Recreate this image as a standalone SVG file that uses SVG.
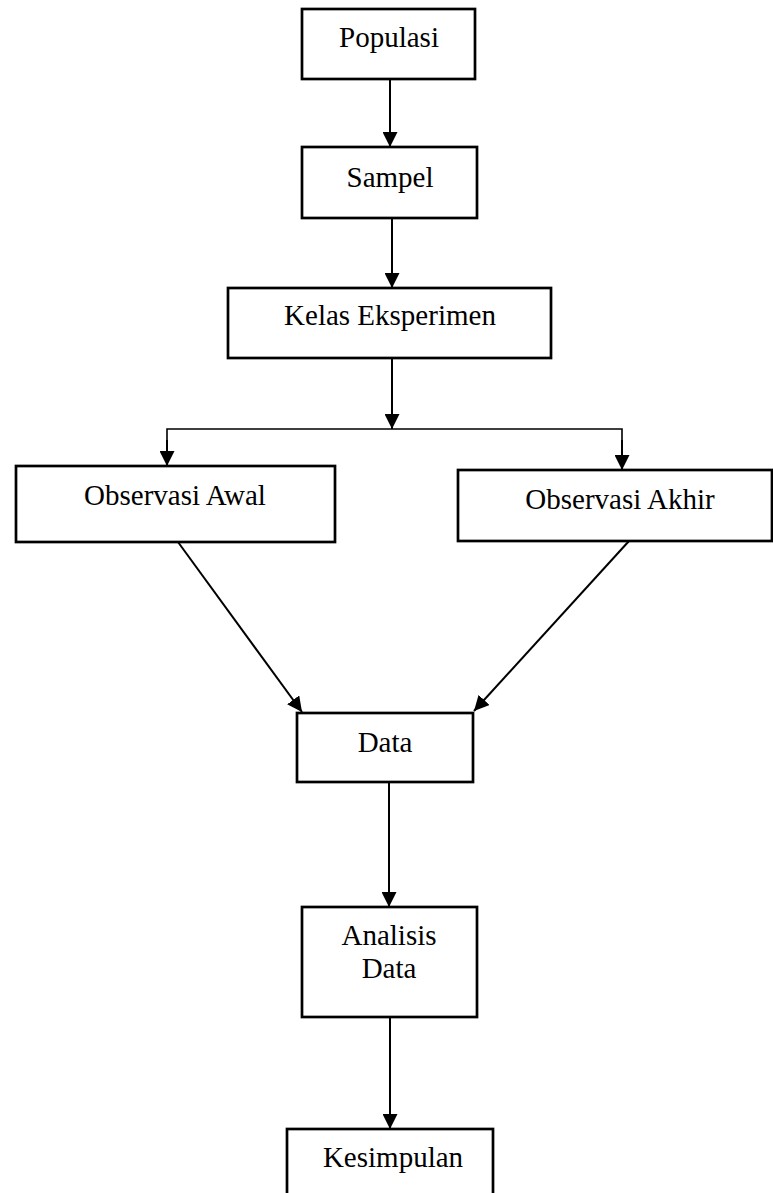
<svg xmlns="http://www.w3.org/2000/svg" width="773" height="1193" viewBox="0 0 773 1193">
<style>
  .box { fill: #fff; stroke: #000; stroke-width: 2.7; }
  .lbl { font-family: "Liberation Serif", "Times New Roman", serif; font-size: 29px; fill: #000; text-anchor: middle; }
  .conn { fill: none; stroke: #000; stroke-width: 2; }
  .thin { fill: none; stroke: #000; stroke-width: 1.6; }
</style>
<defs>
  <marker id="arr" viewBox="0 0 16 16" refX="16" refY="8" markerWidth="15" markerHeight="15" markerUnits="userSpaceOnUse" orient="auto">
    <path d="M0,0 L16,8 L0,16 z" fill="#000"/>
  </marker>
</defs>
<g id="connectors">
  <line class="conn" x1="390" y1="79" x2="390" y2="147" marker-end="url(#arr)"/>
  <line class="conn" x1="392" y1="218" x2="392" y2="288" marker-end="url(#arr)"/>
  <line class="conn" x1="392" y1="358" x2="392" y2="429" marker-end="url(#arr)"/>
  <polyline class="thin" points="167,466 167,429 622,429 622,470"/>
  <line class="conn" x1="167" y1="440" x2="167" y2="466" marker-end="url(#arr)"/>
  <line class="conn" x1="622" y1="440" x2="622" y2="470" marker-end="url(#arr)"/>
  <line class="conn" x1="178" y1="542" x2="302" y2="712" marker-end="url(#arr)"/>
  <line class="conn" x1="629" y1="541" x2="474" y2="711" marker-end="url(#arr)"/>
  <line class="conn" x1="389" y1="782" x2="389" y2="907" marker-end="url(#arr)"/>
  <line class="conn" x1="390" y1="1017" x2="390" y2="1129" marker-end="url(#arr)"/>
</g>
<g id="populasi">
  <rect class="box" x="302" y="9" width="173" height="70"/>
  <text class="lbl" x="389" y="47">Populasi</text>
</g>
<g id="sampel">
  <rect class="box" x="302" y="147" width="175" height="71"/>
  <text class="lbl" x="390" y="187">Sampel</text>
</g>
<g id="kelas-eksperimen">
  <rect class="box" x="228" y="288" width="323" height="70"/>
  <text class="lbl" x="390" y="325">Kelas Eksperimen</text>
</g>
<g id="observasi-awal">
  <rect class="box" x="16" y="466" width="319" height="76"/>
  <text class="lbl" x="175" y="505">Observasi Awal</text>
</g>
<g id="observasi-akhir">
  <rect class="box" x="458" y="470" width="314" height="71"/>
  <text class="lbl" x="620" y="509">Observasi Akhir</text>
</g>
<g id="data">
  <rect class="box" x="297" y="713" width="176" height="69"/>
  <text class="lbl" x="385" y="752">Data</text>
</g>
<g id="analisis-data">
  <rect class="box" x="302" y="907" width="175" height="110"/>
  <text class="lbl" x="389" y="945">Analisis</text>
  <text class="lbl" x="389" y="978">Data</text>
</g>
<g id="kesimpulan">
  <rect class="box" x="287" y="1129" width="206" height="80"/>
  <text class="lbl" x="393" y="1167">Kesimpulan</text>
</g>
</svg>
